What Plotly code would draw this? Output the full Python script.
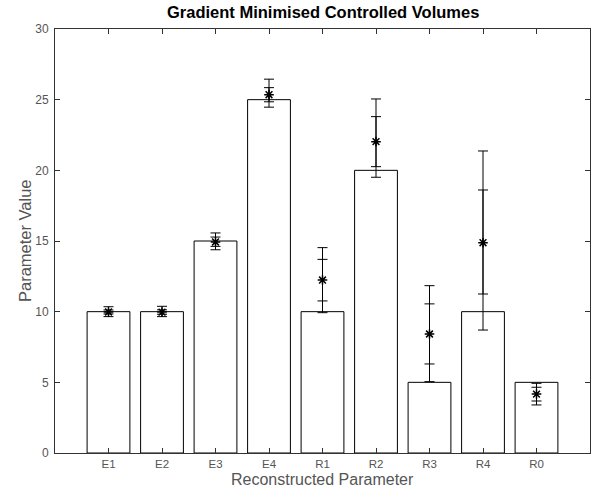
import plotly.graph_objects as go

categories = ["E1", "E2", "E3", "E4", "R1", "R2", "R3", "R4", "R0"]
true_values = [10, 10, 15, 25, 10, 20, 5, 10, 5]
estimates = [9.98, 9.97, 14.93, 25.35, 12.24, 22.03, 8.42, 14.88, 4.17]
outer_low = [9.65, 9.65, 14.38, 24.47, 9.93, 19.51, 5.05, 8.70, 3.40]
outer_high = [10.35, 10.38, 15.57, 26.45, 14.53, 25.05, 11.84, 21.37, 4.93]
inner_low = [9.84, 9.82, 14.62, 24.85, 10.76, 20.26, 6.30, 11.25, 3.68]
inner_high = [10.12, 10.13, 15.28, 25.85, 13.70, 23.80, 10.55, 18.61, 4.65]

fig = go.Figure()
fig.add_trace(go.Bar(
    x=categories, y=true_values, width=0.8,
    marker=dict(color="white", line=dict(color="black", width=1)),
    showlegend=False,
))
fig.add_trace(go.Scatter(
    x=categories, y=estimates, mode="markers",
    marker=dict(size=0.1, color="rgba(0,0,0,0)"),
    error_y=dict(type="data", symmetric=False,
                 array=[h - e for h, e in zip(inner_high, estimates)],
                 arrayminus=[e - l for e, l in zip(estimates, inner_low)],
                 color="black", thickness=1, width=5),
    showlegend=False,
))
fig.add_trace(go.Scatter(
    x=categories, y=estimates, mode="markers",
    marker=dict(symbol="asterisk-open", size=8, color="black",
                line=dict(color="black", width=1.5)),
    error_y=dict(type="data", symmetric=False,
                 array=[h - e for h, e in zip(outer_high, estimates)],
                 arrayminus=[e - l for e, l in zip(estimates, outer_low)],
                 color="black", thickness=1, width=5),
    showlegend=False,
))

axis_color = "#333333"
label_color = "#555555"
fig.update_layout(
    width=597, height=489,
    margin=dict(l=55, r=7, t=29, b=36),
    paper_bgcolor="white", plot_bgcolor="white",
    font=dict(family="Liberation Sans, Arial, sans-serif", color=label_color),
    bargap=0.2,
    annotations=[
        dict(text="<b>Gradient Minimised Controlled Volumes</b>", xref="paper", yref="paper",
             x=0.5, y=1.040, xanchor="center", yanchor="middle", showarrow=False,
             font=dict(size=16.5, color="black")),
        dict(text="Reconstructed Parameter", xref="paper", yref="paper",
             x=0.5, y=-0.063, xanchor="center", yanchor="middle", showarrow=False,
             font=dict(size=16, color=label_color)),
        dict(text="Parameter Value", xref="paper", yref="paper", textangle=-90,
             x=-0.056, y=0.5, xanchor="center", yanchor="middle", showarrow=False,
             font=dict(size=16.5, color=label_color)),
    ],
)
fig.update_xaxes(
    type="category", range=[-1, 9],
    showline=True, linecolor=axis_color, linewidth=1, mirror="ticks",
    ticks="inside", ticklen=5, tickcolor=axis_color, showgrid=False,
    tickfont=dict(size=11.5, color=label_color), ticklabelstandoff=0,
)
fig.update_yaxes(
    range=[0, 30], tickvals=[0, 5, 10, 15, 20, 25, 30],
    showline=True, linecolor=axis_color, linewidth=1, mirror="ticks",
    ticks="inside", ticklen=5, tickcolor=axis_color, showgrid=False, zeroline=False,
    tickfont=dict(size=12, color=label_color), ticklabelstandoff=3,
)

fig.write_html(
    "out.html",
    config={"displayModeBar": False},
    post_script="document.body.style.margin='0';document.body.style.overflow='hidden';",
)
